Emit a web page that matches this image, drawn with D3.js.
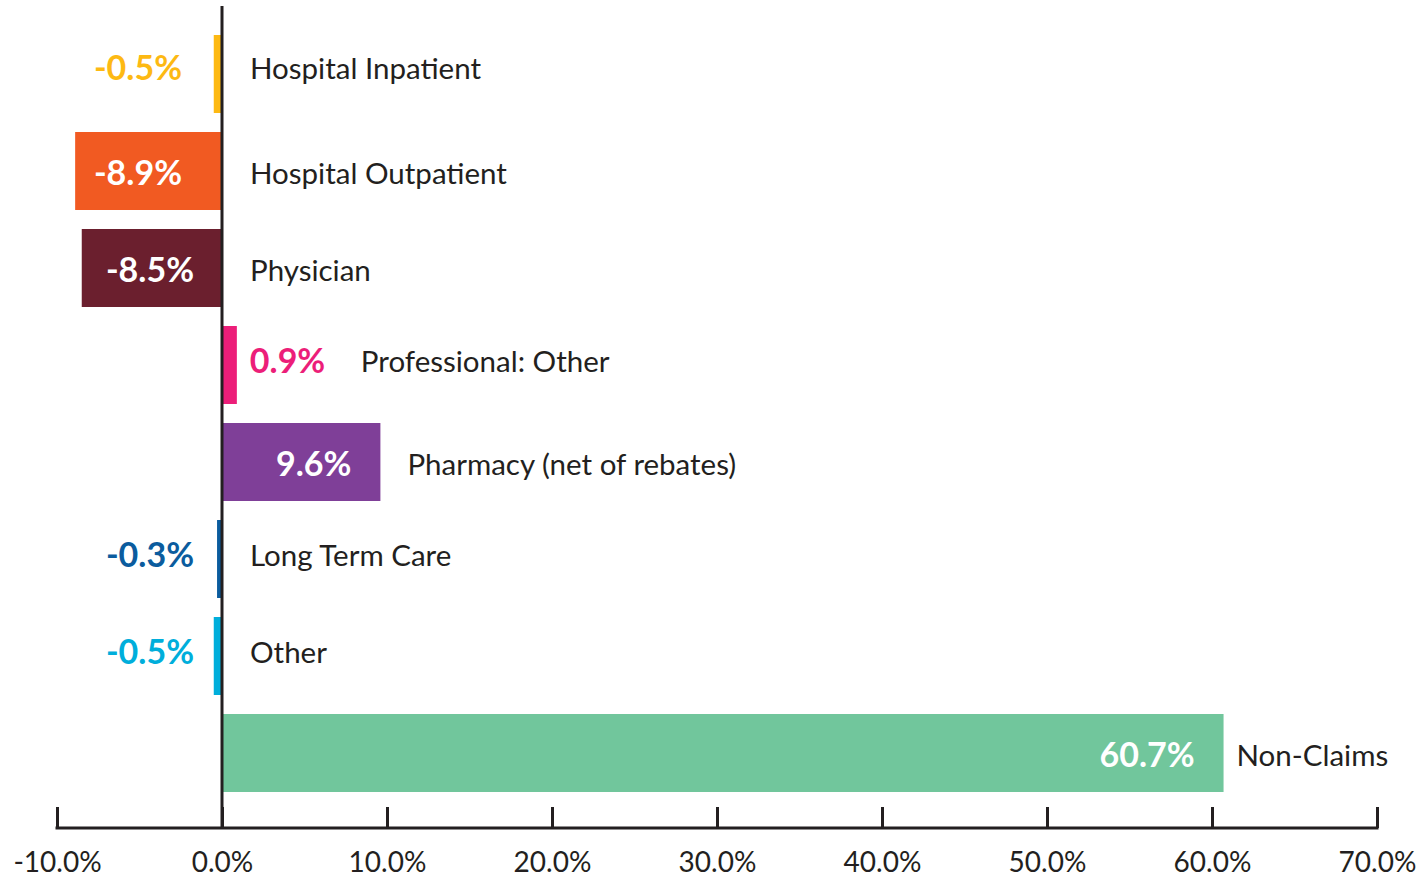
<!DOCTYPE html>
<html><head><meta charset="utf-8">
<script src="https://cdn.jsdelivr.net/npm/d3@7"></script>
<style>html,body{margin:0;padding:0;background:#fff}svg{display:block}</style>
</head><body>
<svg id="c" width="1420" height="877"></svg>
<script>
const categories = ["Hospital Inpatient","Hospital Outpatient","Physician","Professional: Other","Pharmacy (net of rebates)","Long Term Care","Other","Non-Claims"];
const values = [-0.5,-8.9,-8.5,0.9,9.6,-0.3,-0.5,60.7];
const valueLabels = ["-0.5%","-8.9%","-8.5%","0.9%","9.6%","-0.3%","-0.5%","60.7%"];
const tickValues = [-10,0,10,20,30,40,50,60,70];
const tickLabels = ["-10.0%","0.0%","10.0%","20.0%","30.0%","40.0%","50.0%","60.0%","70.0%"];

// styling / layout (not data)
const colors = ["#FDB913","#F15A22","#6B1F2E","#EC1E79","#7F3F98","#0B5C9E","#00AEDB","#71C69C"];
const valueColors = ["#FDB913","#ffffff","#ffffff","#EC1E79","#ffffff","#0B5C9E","#00AEDB","#ffffff"];
const valRef = ["zero","zero","zero","end","end","zero","zero","end"];
const valOff = [-40,-40,-28,13,-29,-28,-28,-29];
const valAnchor = ["end","end","end","start","end","end","end","end"];
const catOff = [28,28,28,124,27,28,28,13];
const dy = [-6,2,2,-4,2,-4,-4,2];

const ink = "#231f20";
const svg = d3.select("#c");
const x = d3.scaleLinear().domain([-10,70]).range([57,1377]);
const y = d3.scaleBand().domain(categories).range([35,792]).paddingInner(0.196).paddingOuter(0);

const rows = categories.map((c,i)=>({c,v:values[i],i}));

svg.selectAll("rect.bar").data(rows).join("rect")
  .attr("class","bar")
  .attr("x",d=>x(Math.min(0,d.v)))
  .attr("width",d=>Math.abs(x(d.v)-x(0)))
  .attr("y",d=>y(d.c))
  .attr("height",y.bandwidth())
  .attr("fill",d=>colors[d.i]);

svg.append("line").attr("x1",x(0)).attr("x2",x(0)).attr("y1",6).attr("y2",828)
  .attr("stroke",ink).attr("stroke-width",3);

const axis = d3.axisBottom(x).tickValues(tickValues)
  .tickFormat((d,i)=>tickLabels[i]).tickSizeInner(-21).tickSizeOuter(0).tickPadding(0);
const g = svg.append("g").attr("transform","translate(0,828)").call(axis);
g.select(".domain").attr("stroke",ink).attr("stroke-width",3)
  .attr("d",`M${x(-10)-1.5},0H${x(70)+1.5}`);
g.selectAll(".tick line").attr("stroke",ink).attr("stroke-width",3);
g.selectAll(".tick text").attr("fill",ink).attr("font-family","Lato, sans-serif")
  .attr("font-size",28).attr("y",44).attr("dy",0);

svg.selectAll("text.val").data(rows).join("text")
  .attr("class","val")
  .attr("x",d=>(valRef[d.i]==="zero"?x(0):x(d.v))+valOff[d.i])
  .attr("y",d=>y(d.c)+y.bandwidth()/2+dy[d.i])
  .attr("dy","0.36em")
  .attr("text-anchor",d=>valAnchor[d.i])
  .attr("font-family","Lato, sans-serif").attr("font-weight",700).attr("font-size",34)
  .attr("fill",d=>valueColors[d.i])
  .text(d=>valueLabels[d.i]);

svg.selectAll("text.cat").data(rows).join("text")
  .attr("class","cat")
  .attr("x",d=>Math.max(x(0),x(d.v))+catOff[d.i])
  .attr("y",d=>y(d.c)+y.bandwidth()/2+dy[d.i])
  .attr("dy","0.36em")
  .attr("font-family","Lato, sans-serif").attr("font-size",29.5)
  .attr("fill",ink)
  .text(d=>d.c);
</script>
</body></html>
